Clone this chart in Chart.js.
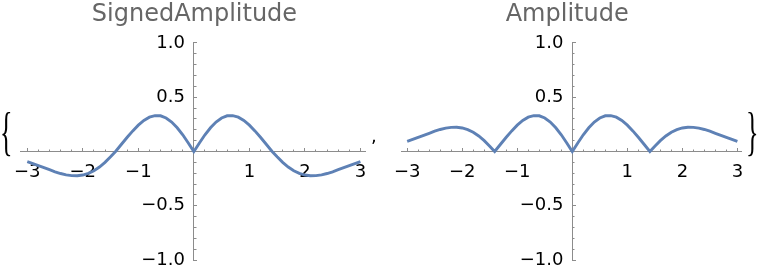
<!DOCTYPE html>
<html>
<head>
<meta charset="utf-8">
<script src="https://cdn.jsdelivr.net/npm/chart.js@4.4.1/dist/chart.umd.min.js"></script>
<style>
  html, body { margin: 0; padding: 0; background: #fff; }
  body { width: 758px; height: 274px; position: relative; overflow: hidden; }
  canvas { position: absolute; top: 0; }
  #left-chart { left: 0; }
  #right-chart { left: 380px; }
  .mark { position: absolute; color: #000; white-space: pre; }
  .brace { font-family: "Liberation Serif", serif; font-size: 52px; line-height: 52px; transform: scaleX(0.5); }
  #brace-open { left: 0px; top: 106px; transform-origin: left top; }
  #brace-close { left: 746px; top: 106px; transform-origin: left top; }
  #comma { left: 371px; top: 127px; font-family: "DejaVu Sans", sans-serif; font-size: 18px; line-height: 18px; }
</style>
</head>
<body>
<canvas id="left-chart" width="380" height="274"></canvas>
<canvas id="right-chart" width="378" height="274"></canvas>
<div class="mark brace" id="brace-open">{</div>
<div class="mark" id="comma">,</div>
<div class="mark brace" id="brace-close">}</div>
<script>
// sample positions along x
const xValues = [
    -3, -2.9, -2.8, -2.7, -2.6, -2.5, -2.4, -2.3, -2.2, -2.1, -2, -1.9, -1.8, -1.7, -1.6, -1.5,
    -1.41,
    -1.3, -1.2, -1.1, -1, -0.9, -0.8, -0.7, -0.6, -0.5, -0.4, -0.3, -0.2, -0.1,
    0,
    0.1, 0.2, 0.3, 0.4, 0.5, 0.6, 0.7, 0.8, 0.9, 1, 1.1, 1.2, 1.3,
    1.41,
    1.5, 1.6, 1.7, 1.8, 1.9, 2, 2.1, 2.2, 2.3, 2.4, 2.5, 2.6, 2.7, 2.8, 2.9, 3
];

const signedValues = [
    -0.093, -0.111, -0.130, -0.149, -0.168, -0.187, -0.203, -0.215, -0.222, -0.223, -0.217, -0.201, -0.177, -0.143, -0.100, -0.049,
    0,
    0.069, 0.131, 0.190, 0.243, 0.286, 0.316, 0.331, 0.329, 0.309, 0.272, 0.219, 0.154, 0.079,
    0,
    0.079, 0.154, 0.219, 0.272, 0.309, 0.329, 0.331, 0.316, 0.286, 0.243, 0.190, 0.131, 0.069,
    0,
    -0.049, -0.100, -0.143, -0.177, -0.201, -0.217, -0.223, -0.222, -0.215, -0.203, -0.187, -0.168, -0.149, -0.130, -0.111, -0.093
];

const amplitudeValues = [
    0.093, 0.111, 0.130, 0.149, 0.168, 0.187, 0.203, 0.215, 0.222, 0.223, 0.217, 0.201, 0.177, 0.143, 0.100, 0.049,
    0,
    0.069, 0.131, 0.190, 0.243, 0.286, 0.316, 0.331, 0.329, 0.309, 0.272, 0.219, 0.154, 0.079,
    0,
    0.079, 0.154, 0.219, 0.272, 0.309, 0.329, 0.331, 0.316, 0.286, 0.243, 0.190, 0.131, 0.069,
    0,
    0.049, 0.100, 0.143, 0.177, 0.201, 0.217, 0.223, 0.222, 0.215, 0.203, 0.187, 0.168, 0.149, 0.130, 0.111, 0.093
];

const chartTitles = ['SignedAmplitude', 'Amplitude'];
const xTickStep = 1;
const xMinorStep = 0.2;
const yTickStep = 0.5;
const yMinorStep = 0.1;

const LINE_COLOR = '#5e81b5';
const AXIS_COLOR = '#8c8c8c';
const FONT = 'DejaVu Sans';

function formatTick(value, digits) {
    if (Math.abs(value) < 1e-9) return '';
    return value.toFixed(digits).replace('-', '\u2212');
}

function buildScales(xMin, xMax) {
    const flatX = s => { s.height = 0; };
    const flatY = s => { s.width = 0; };
    return {
        x: {
            type: 'linear', axis: 'x', position: { y: 0 }, min: xMin, max: xMax,
            afterFit: flatX,
            border: { display: true, color: AXIS_COLOR, width: 1 },
            grid: { drawOnChartArea: false, drawTicks: true, tickLength: -4, color: AXIS_COLOR },
            ticks: {
                stepSize: xTickStep, includeBounds: false, autoSkip: false, maxRotation: 0,
                padding: 13.7, color: '#000', font: { family: FONT, size: 18 },
                callback: v => formatTick(v, 0)
            }
        },
        xMinor: {
            type: 'linear', axis: 'x', position: { y: 0 }, min: xMin, max: xMax,
            afterFit: flatX,
            border: { display: false },
            grid: { drawOnChartArea: false, drawTicks: true, tickLength: -2.5, color: AXIS_COLOR },
            ticks: { stepSize: xMinorStep, includeBounds: false, autoSkip: false, maxRotation: 0, callback: () => '' }
        },
        y: {
            type: 'linear', axis: 'y', position: { x: 0 }, min: -1, max: 1,
            afterFit: flatY,
            border: { display: true, color: AXIS_COLOR, width: 1 },
            grid: { drawOnChartArea: false, drawTicks: true, tickLength: -4, color: AXIS_COLOR },
            ticks: { stepSize: yTickStep, autoSkip: false, callback: () => '' }
        },
        yMinor: {
            type: 'linear', axis: 'y', position: { x: 0 }, min: -1, max: 1,
            afterFit: flatY,
            border: { display: false },
            grid: { drawOnChartArea: false, drawTicks: true, tickLength: -2.5, color: AXIS_COLOR },
            ticks: { stepSize: yMinorStep, autoSkip: false, callback: () => '' }
        },
        // labels only, sitting a little left of the y axis
        yLabels: {
            type: 'linear', axis: 'y', position: { x: -0.16 }, min: -1, max: 1,
            afterFit: flatY,
            border: { display: false },
            grid: { display: false, drawTicks: false },
            ticks: {
                stepSize: yTickStep, autoSkip: false, padding: 0,
                color: '#000', font: { family: FONT, size: 18 },
                callback: v => formatTick(v, 1)
            }
        }
    };
}

function makeChart(canvasId, title, values, xMin, xMax, pad) {
    const points = xValues.map((x, i) => ({ x: x, y: values[i] }));
    return new Chart(document.getElementById(canvasId), {
        type: 'line',
        data: {
            datasets: [{
                data: points,
                xAxisID: 'x',
                yAxisID: 'y',
                borderColor: LINE_COLOR,
                borderWidth: 2.9,
                pointRadius: 0,
                tension: 0,
                fill: false
            }]
        },
        options: {
            responsive: false,
            animation: false,
            devicePixelRatio: 1,
            layout: { padding: pad },
            scales: buildScales(xMin, xMax),
            plugins: {
                legend: { display: false },
                tooltip: { enabled: false },
                title: {
                    display: true,
                    text: title,
                    color: '#666',
                    font: { family: FONT, size: 24, weight: 'normal' },
                    padding: { top: 0, bottom: 13.8 }
                }
            }
        }
    });
}

makeChart('left-chart', chartTitles[0], signedValues, -3.12, 3.1,
    { left: 19.7, right: 10.8, top: 0.4, bottom: 14 });
makeChart('right-chart', chartTitles[1], amplitudeValues, -3.1, 3.08,
    { left: 12.6, right: 16.2, top: 0.4, bottom: 14 });
</script>
</body>
</html>
